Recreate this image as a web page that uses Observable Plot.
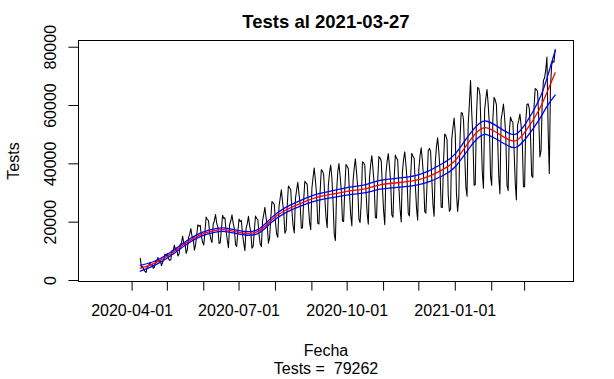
<!DOCTYPE html>
<html>
<head>
<meta charset="utf-8">
<script src="https://cdn.jsdelivr.net/npm/d3@7"></script>
<script src="https://cdn.jsdelivr.net/npm/@observablehq/plot@0.6"></script>
<style>
  html, body { margin: 0; padding: 0; background: #fff; }
  svg { display: block; }
</style>
</head>
<body>
<div id="chart"></div>
<script>
// ---- Data ----
const chartTitle = "Tests al 2021-03-27";
const xLabel = "Fecha";
const yLabel = "Tests";
const subLabel = "Tests = \u00a079262";

const firstDate = "2020-04-08";            // first day with a value
const xRange = ["2020-03-02", "2021-03-27"]; // full date range of the series (R pads 4%)

const apr2020 = [7600, 4300, 4800, 3700, 3100, 2800, 4900, 5000, 6100, 5200, 5600, 4200,
  4500, 6800, 6600, 7900, 6400, 7000, 5100, 6200, 7300, 9100, 8400];
const may2020 = [9300, 7400, 6900, 7100, 10200, 10400, 12100, 10300, 10900, 8400, 9100, 12500,
  12800, 15200, 12600, 12900, 9300, 10600, 14600, 15900, 17800, 15100, 14700, 10400, 12100,
  15600, 19100, 18600, 18900, 15200, 13100];
const jun2020 = [12200, 16600, 21800, 20900, 20600, 16400, 14100, 13000, 19300, 20500, 22600,
  19600, 18300, 12700, 12900, 17600, 22400, 21300, 21500, 16900, 13900, 11200, 19200, 20400,
  22500, 19700, 17800, 12300, 11700, 16800];
const jul2020 = [21100, 20200, 20600, 15700, 12800, 10200, 17900, 19400, 22000, 18800, 16500,
  11100, 11700, 16900, 22100, 21200, 20900, 15800, 12600, 11600, 20400, 22600, 25100, 21500,
  19000, 12800, 14600, 21300, 27100, 26600, 26100];
const aug2020 = [19900, 16000, 14800, 25300, 28200, 31100, 27000, 23700, 16200, 17100, 25600,
  32400, 31800, 31100, 24000, 18700, 16300, 28100, 31000, 33700, 29800, 26200, 17900, 18100,
  27600, 34000, 33500, 33000, 25800, 20100, 17400];
const sep2020 = [31600, 35400, 38600, 34200, 29500, 19600, 19400, 30500, 38000, 37500, 36400,
  28400, 21600, 18100, 32700, 36800, 39600, 35300, 26900, 15900, 13700, 30200, 37200, 40100,
  35900, 31000, 20400, 20200, 31800, 39800];
const oct2020 = [39200, 38300, 29700, 22600, 18700, 34000, 38500, 41700, 37000, 31900, 21000,
  19900, 26800, 40700, 40400, 39500, 30600, 23100, 19300, 35200, 39700, 42800, 38200, 32900,
  21600, 21400, 34200, 42500, 42000, 41000, 31900];
const nov2020 = [24000, 19100, 36500, 40900, 43500, 39200, 33800, 22500, 21700, 34900, 43000,
  42000, 41300, 32200, 24600, 20100, 37000, 41500, 44100, 39800, 34300, 23000, 22100, 35500,
  43600, 42600, 41900, 32800, 25000, 20700];
const dec2020 = [38200, 42700, 45500, 41100, 35500, 23700, 23100, 33300, 44500, 45300, 44300,
  34900, 26100, 22000, 40500, 45900, 48900, 44200, 37900, 25100, 25000, 40600, 50200, 49700,
  48200, 29300, 23700, 24500, 48500, 52300, 55700];
const jan2021 = [50300, 29800, 23700, 28500, 48000, 57500, 57400, 55200, 43600, 32100, 28900,
  53700, 60500, 68600, 57700, 48900, 32700, 32800, 55800, 66200, 65900, 63700, 50600, 37000,
  31600, 58500, 62500, 65500, 60400, 53300, 35800];
const feb2021 = [32600, 55400, 62800, 61900, 60300, 49300, 35700, 29700, 55100, 57700, 60500,
  55800, 49200, 32600, 30800, 50900, 56100, 54700, 54300, 45100, 33700, 27600, 53300, 54900,
  57100, 53200, 48000, 32200];
const mar2021 = [32100, 54800, 60400, 60600, 58900, 50100, 35900, 35300, 59400, 65800, 65500,
  64900, 56200, 42400, 44600, 61600, 68600, 69500, 72300, 76600, 51700, 36700, 66200, 73900,
  75200, 74900, 79262];

// Smoothed fit (red) and confidence band half-width (blue)
const smoothDates = ["2020-04-08","2020-04-20","2020-05-02","2020-05-16","2020-05-30","2020-06-11",
  "2020-06-21","2020-07-06","2020-07-18","2020-07-28","2020-08-09","2020-08-25","2020-09-06",
  "2020-09-21","2020-10-05","2020-10-17","2020-10-29","2020-11-15","2020-11-28","2020-12-10",
  "2020-12-22","2021-01-01","2021-01-12","2021-01-21","2021-01-27","2021-02-04","2021-02-15",
  "2021-02-22","2021-03-02","2021-03-13","2021-03-20","2021-03-27"];
const smoothFit = [4200, 5900, 8600, 12600, 15800, 17200, 17300, 16200, 17000, 20500, 24000, 26900,
  28600, 29800, 30800, 31500, 32800, 33600, 34300, 35800, 38200, 41200, 47200, 51400, 52400,
  51000, 48400, 48000, 51300, 58300, 64500, 71200];
const bandHalf = [1000, 700, 600, 600, 600, 600, 600, 600, 700, 800, 900, 1000, 1100, 1200, 1300,
  1400, 1500, 1600, 1700, 1900, 2100, 2200, 2300, 2300, 2300, 2300, 2200, 2300, 2600, 3400, 4800, 7600];

const xTicks = ["2020-04-01","2020-05-01","2020-06-01","2020-07-01","2020-08-01","2020-09-01",
  "2020-10-01","2020-11-01","2020-12-01","2021-01-01","2021-02-01","2021-03-01"];
const xTickLabels = ["2020-04-01","2020-07-01","2020-10-01","2021-01-01"];
const yTicks = [0, 20000, 40000, 60000, 80000];

// ---- Build tables ----
const values = [].concat(apr2020, may2020, jun2020, jul2020, aug2020, sep2020,
  oct2020, nov2020, dec2020, jan2021, feb2021, mar2021);
const DAY = 864e5;
const t0 = new Date(firstDate).getTime();
const series = values.map((v, i) => ({date: new Date(t0 + i * DAY), value: v}));
const smooth = smoothDates.map((d, i) => ({
  date: new Date(d), fit: smoothFit[i], lo: smoothFit[i] - bandHalf[i], hi: smoothFit[i] + bandHalf[i]
}));

const r0 = new Date(xRange[0]).getTime(), r1 = new Date(xRange[1]).getTime();
const pad = 0.04 * (r1 - r0);
const xDomain = [new Date(r0 - pad), new Date(r1 + pad)];
const yDomain = [-343, 82300];

const fmt = d3.utcFormat("%Y-%m-%d");
const labeled = new Set(xTickLabels);

const chart = Plot.plot({
  width: 614,
  height: 379,
  marginLeft: 78,
  marginRight: 41,
  marginTop: 40,
  marginBottom: 98,
  style: {fontFamily: "'Liberation Sans', Arial, sans-serif", fontSize: "16px", color: "black", background: "white"},
  x: {type: "utc", domain: xDomain},
  y: {domain: yDomain},
  marks: [
    Plot.axisX({ticks: xTicks.map(d => new Date(d)), tickSize: 9.6, tickPadding: 14,
      tickFormat: d => labeled.has(fmt(d)) ? fmt(d) : "", label: null, fontSize: 16, stroke: "black"}),
    Plot.axisY({ticks: yTicks, tickSize: 9.6, tickFormat: () => "", label: null, stroke: "black"}),
    Plot.text(yTicks, {frameAnchor: "left", y: d => d, text: d => String(d), rotate: -90,
      dx: -23, textAnchor: "middle", lineAnchor: "bottom", fontSize: 16, fill: "black"}),
    Plot.line(series, {x: "date", y: "value", stroke: "black", strokeWidth: 1.05}),
    Plot.line(smooth, {x: "date", y: "fit", stroke: "#ff0000", strokeWidth: 1.3, curve: "natural"}),
    Plot.line(smooth, {x: "date", y: "hi", stroke: "#0000ff", strokeWidth: 1.3, curve: "natural"}),
    Plot.line(smooth, {x: "date", y: "lo", stroke: "#0000ff", strokeWidth: 1.3, curve: "natural"}),
    Plot.frame({stroke: "black", strokeWidth: 1}),
    Plot.text([chartTitle], {frameAnchor: "top", text: d => d, dy: -13, lineAnchor: "bottom",
      fontWeight: "bold", fontSize: 18.5, fill: "black"}),
    Plot.text([xLabel], {frameAnchor: "bottom", text: d => d, dy: 74, lineAnchor: "bottom", fontSize: 16, fill: "black"}),
    Plot.text([subLabel], {frameAnchor: "bottom", text: d => d, dy: 92, lineAnchor: "bottom", fontSize: 16, fill: "black"}),
    Plot.text([yLabel], {frameAnchor: "left", text: d => d, dx: -60, rotate: -90, textAnchor: "middle",
      lineAnchor: "bottom", fontSize: 16, fill: "black"})
  ]
});
document.getElementById("chart").appendChild(chart);
</script>
</body>
</html>
